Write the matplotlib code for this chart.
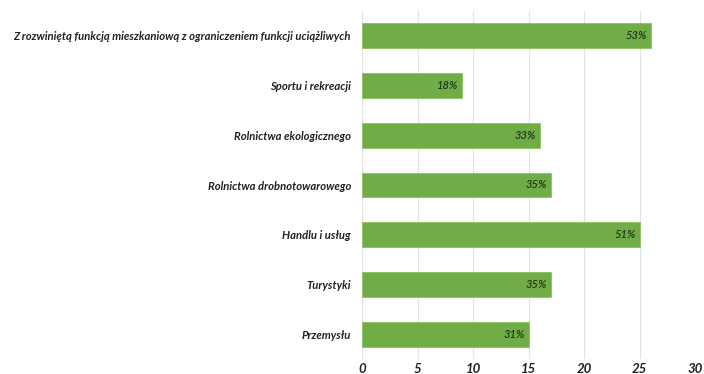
import matplotlib
matplotlib.use("Agg")
import matplotlib.pyplot as plt

categories = [
    "Z rozwiniętą funkcją mieszkaniową z ograniczeniem funkcji uciążliwych",
    "Sportu i rekreacji",
    "Rolnictwa ekologicznego",
    "Rolnictwa drobnotowarowego",
    "Handlu i usług",
    "Turystyki",
    "Przemysłu",
]
counts = [26, 9, 16, 17, 25, 17, 15]
percent_labels = ["53%", "18%", "33%", "35%", "51%", "35%", "31%"]
x_ticks = [0, 5, 10, 15, 20, 25, 30]

plt.rcParams["font.family"] = ["Lato", "DejaVu Sans"]

fig = plt.figure(figsize=(7.04, 3.74), dpi=100)
ax = fig.add_axes([362 / 704, 1 - 359 / 374, (695 - 362) / 704, (359 - 11) / 374])

ypos = list(range(len(categories)))
ax.barh(ypos, counts, height=0.5, color="#70AD47", edgecolor="#8cc063",
        linewidth=0.6, zorder=3)

for y, c, lab in zip(ypos, counts, percent_labels):
    ax.text(c - 0.35, y, lab, ha="right", va="center", fontsize=8,
            style="italic", fontweight="semibold", color="#233517", zorder=4)

ax.set_ylim(len(categories) - 0.5, -0.5)
ax.set_xlim(0, 30)
ax.set_xticks(x_ticks)
ax.set_xticklabels([str(t) for t in x_ticks], fontsize=9.5, fontweight="bold",
                   style="italic", color="#222222")
ax.set_yticks(ypos)
ax.set_yticklabels(categories, fontsize=8.1, fontweight="bold", style="italic",
                   color="#222222")
ax.tick_params(axis="both", length=0)
ax.tick_params(axis="y", pad=8)
ax.tick_params(axis="x", pad=3)

ax.grid(axis="x", color="#e3e3e3", linewidth=0.9, zorder=0)
for s in ax.spines.values():
    s.set_visible(False)

fig.savefig("out.png", dpi=100, facecolor="white")
